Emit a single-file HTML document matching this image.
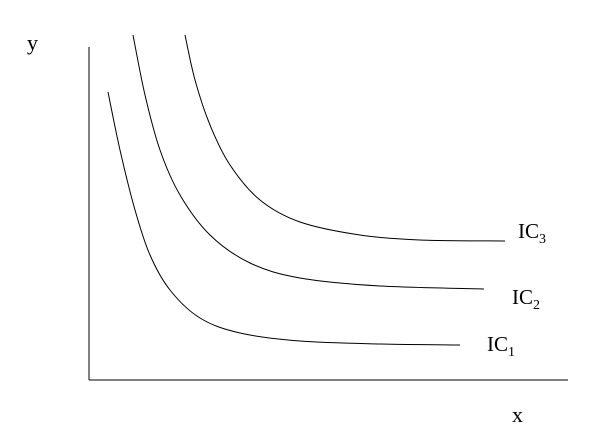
<!DOCTYPE html>
<html><head><meta charset="utf-8"><style>
html,body{margin:0;padding:0;background:#fff;}
svg{display:block;}
text{font-family:"Liberation Serif",serif;fill:#000;}
</style></head><body>
<svg id="chart" width="590" height="443">
  <line x1="89" y1="47" x2="89" y2="380" stroke="#000" stroke-width="1"/>
  <line x1="89" y1="380" x2="568" y2="380" stroke="#000" stroke-width="1"/>
  <text x="27" y="50" font-size="22">y</text>
  <text x="512" y="422" font-size="22">x</text>
  <g id="curves"></g>
</svg>
<script>
const seriesNames = ["IC1","IC2","IC3"];
const ic1X = [19,31,46,61,81,111,151,211,291,371];
const ic1Y = [288,230,170,125,90,62,47,39,36,35];
const ic2X = [44,56,71,91,121,161,211,291,395];
const ic2Y = [345,285,230,185,145,117,102,94,91];
const ic3X = [96,106,121,141,171,211,271,331,416];
const ic3Y = [345,300,255,215,180,158,145,140,139];
const labelPos = [[398,36],[423,83],[429,149]];

const sx = v => 89 + v;
const sy = v => 380 - v;
const ns = "http://www.w3.org/2000/svg";
const g = document.getElementById('curves');
const data = [[ic1X,ic1Y],[ic2X,ic2Y],[ic3X,ic3Y]];

function pathFor(xs, ys){
  const p = xs.map((x,i)=>[sx(x), sy(ys[i])]);
  let d = `M${p[0][0]},${p[0][1]}`;
  for(let i=0;i<p.length-1;i++){
    const p0=p[Math.max(0,i-1)], p1=p[i], p2=p[i+1], p3=p[Math.min(p.length-1,i+2)];
    const c1=[p1[0]+(p2[0]-p0[0])/6, p1[1]+(p2[1]-p0[1])/6];
    const c2=[p2[0]-(p3[0]-p1[0])/6, p2[1]-(p3[1]-p1[1])/6];
    d += ` C${c1[0]},${c1[1]} ${c2[0]},${c2[1]} ${p2[0]},${p2[1]}`;
  }
  return d;
}

data.forEach((s,i)=>{
  const path = document.createElementNS(ns,'path');
  path.setAttribute('d', pathFor(s[0], s[1]));
  path.setAttribute('fill','none');
  path.setAttribute('stroke','#000');
  path.setAttribute('stroke-width','1');
  
  
  g.appendChild(path);

  const t = document.createElementNS(ns,'text');
  t.setAttribute('x', sx(labelPos[i][0]));
  t.setAttribute('y', sy(labelPos[i][1]) + 7);
  t.setAttribute('font-size','21');
  
  
  t.textContent = 'IC';
  const sub = document.createElementNS(ns,'tspan');
  sub.setAttribute('font-size','14');
  sub.setAttribute('dy','5');
  sub.textContent = seriesNames[i].slice(2);
  t.appendChild(sub);
  g.appendChild(t);
});
</script>
</body></html>
